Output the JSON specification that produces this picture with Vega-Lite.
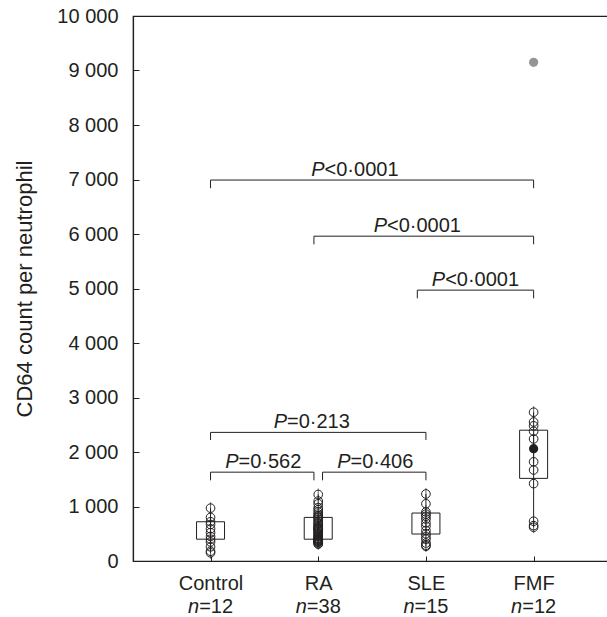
{
  "$schema": "https://vega.github.io/schema/vega-lite/v6.json",
  "width": 476,
  "height": 545,
  "autosize": "none",
  "padding": {"left": 133, "top": 16, "right": 0, "bottom": 56},
  "background": "white",
  "config": {
    "font": "Liberation Sans",
    "view": {"stroke": "#231f20", "strokeWidth": 1.2},
    "scale": {"continuousPadding": 0},
    "axis": {"grid": false, "domainColor": "#231f20", "tickColor": "#231f20", "labelColor": "#231f20", "titleColor": "#231f20", "labelFont": "Liberation Sans", "titleFont": "Liberation Sans", "labelFontSize": 20, "titleFontSize": 22, "titleFontWeight": "normal", "domainWidth": 1.2, "tickWidth": 1}
  },
  "datasets": {
    "points": [
      {"grp": 0, "v": 970, "kind": "open"}, {"grp": 0, "v": 800, "kind": "open"}, {"grp": 0, "v": 720, "kind": "open"}, {"grp": 0, "v": 670, "kind": "open"}, {"grp": 0, "v": 590, "kind": "open"}, {"grp": 0, "v": 520, "kind": "open"}, {"grp": 0, "v": 450, "kind": "open"}, {"grp": 0, "v": 400, "kind": "open"}, {"grp": 0, "v": 350, "kind": "open"}, {"grp": 0, "v": 260, "kind": "open"}, {"grp": 0, "v": 180, "kind": "open"}, {"grp": 0, "v": 150, "kind": "open"},
      {"grp": 1, "v": 1220, "kind": "open"}, {"grp": 1, "v": 1100, "kind": "open"}, {"grp": 1, "v": 1050, "kind": "open"}, {"grp": 1, "v": 980, "kind": "open"}, {"grp": 1, "v": 940, "kind": "open"}, {"grp": 1, "v": 900, "kind": "open"}, {"grp": 1, "v": 860, "kind": "open"}, {"grp": 1, "v": 830, "kind": "open"}, {"grp": 1, "v": 810, "kind": "open"}, {"grp": 1, "v": 790, "kind": "open"},
      {"grp": 1, "v": 760, "kind": "open"}, {"grp": 1, "v": 730, "kind": "open"}, {"grp": 1, "v": 700, "kind": "open"}, {"grp": 1, "v": 680, "kind": "open"}, {"grp": 1, "v": 650, "kind": "open"}, {"grp": 1, "v": 630, "kind": "open"}, {"grp": 1, "v": 610, "kind": "open"}, {"grp": 1, "v": 600, "kind": "open"}, {"grp": 1, "v": 590, "kind": "open"}, {"grp": 1, "v": 580, "kind": "open"},
      {"grp": 1, "v": 560, "kind": "open"}, {"grp": 1, "v": 540, "kind": "open"}, {"grp": 1, "v": 520, "kind": "open"}, {"grp": 1, "v": 500, "kind": "open"}, {"grp": 1, "v": 480, "kind": "open"}, {"grp": 1, "v": 460, "kind": "open"}, {"grp": 1, "v": 440, "kind": "open"}, {"grp": 1, "v": 420, "kind": "open"}, {"grp": 1, "v": 410, "kind": "open"}, {"grp": 1, "v": 400, "kind": "open"},
      {"grp": 1, "v": 390, "kind": "open"}, {"grp": 1, "v": 380, "kind": "open"}, {"grp": 1, "v": 370, "kind": "open"}, {"grp": 1, "v": 360, "kind": "open"}, {"grp": 1, "v": 350, "kind": "open"}, {"grp": 1, "v": 340, "kind": "open"}, {"grp": 1, "v": 320, "kind": "open"}, {"grp": 1, "v": 310, "kind": "open"},
      {"grp": 2, "v": 1230, "kind": "open"}, {"grp": 2, "v": 1050, "kind": "open"}, {"grp": 2, "v": 900, "kind": "open"}, {"grp": 2, "v": 860, "kind": "open"}, {"grp": 2, "v": 820, "kind": "open"}, {"grp": 2, "v": 770, "kind": "open"}, {"grp": 2, "v": 700, "kind": "open"}, {"grp": 2, "v": 640, "kind": "open"}, {"grp": 2, "v": 560, "kind": "open"}, {"grp": 2, "v": 500, "kind": "open"}, {"grp": 2, "v": 450, "kind": "open"}, {"grp": 2, "v": 400, "kind": "open"}, {"grp": 2, "v": 330, "kind": "open"}, {"grp": 2, "v": 290, "kind": "open"}, {"grp": 2, "v": 270, "kind": "open"},
      {"grp": 3, "v": 2730, "kind": "open"}, {"grp": 3, "v": 2550, "kind": "open"}, {"grp": 3, "v": 2480, "kind": "open"}, {"grp": 3, "v": 2380, "kind": "open"}, {"grp": 3, "v": 2240, "kind": "open"}, {"grp": 3, "v": 1820, "kind": "open"}, {"grp": 3, "v": 1670, "kind": "open"}, {"grp": 3, "v": 1420, "kind": "open"}, {"grp": 3, "v": 730, "kind": "open"}, {"grp": 3, "v": 650, "kind": "open"}, {"grp": 3, "v": 620, "kind": "open"},
      {"grp": 3, "v": 2060, "kind": "filled"},
      {"grp": 3, "v": 9150, "kind": "outlier"}
    ],
    "boxes": [
      {"grp": 0, "lo": 150, "q1": 400, "med": 520, "q3": 720, "hi": 970},
      {"grp": 1, "lo": 310, "q1": 400, "med": 590, "q3": 800, "hi": 1220},
      {"grp": 2, "lo": 275, "q1": 495, "med": 770, "q3": 880, "hi": 1230},
      {"grp": 3, "lo": 620, "q1": 1516, "med": 2060, "q3": 2400, "hi": 2730}
    ],
    "brackets": [
      {"a": 0, "b": 3, "y": 6990, "leg": 6840, "tx": 1.34, "kind": "lt", "rest": "<0·0001"},
      {"a": 0.96, "b": 3, "y": 5960, "leg": 5810, "tx": 1.92, "kind": "lt", "rest": "<0·0001"},
      {"a": 1.92, "b": 3, "y": 4970, "leg": 4820, "tx": 2.46, "kind": "lt", "rest": "<0·0001"},
      {"a": 0, "b": 2, "y": 2360, "leg": 2220, "tx": 0.94, "kind": "eq", "rest": "=0·213"},
      {"a": 0, "b": 0.96, "y": 1630, "leg": 1480, "tx": 0.49, "kind": "eq", "rest": "=0·562"},
      {"a": 1.04, "b": 2, "y": 1630, "leg": 1480, "tx": 1.53, "kind": "eq", "rest": "=0·406"}
    ],
    "groups": [
      {"grp": 0, "name": "Control", "n": "=12"},
      {"grp": 1, "name": "RA", "n": "=38"},
      {"grp": 2, "name": "SLE", "n": "=15"},
      {"grp": 3, "name": "FMF", "n": "=12"}
    ]
  },
  "layer": [
    {
      "data": {"name": "boxes"},
      "mark": {"type": "rule", "color": "#231f20", "strokeWidth": 1},
      "encoding": {
        "x": {"field": "grp", "type": "quantitative", "scale": {"domain": [-0.72, 3.7], "nice": false, "zero": false, "padding": 0}, "title": null,
          "axis": {"values": [0, 1, 2, 3], "labelExpr": "['Control','RA','SLE','FMF'][datum.value]", "tickSize": -5, "labelPadding": 17.5, "labelBaseline": "top"}},
        "y": {"field": "lo", "type": "quantitative", "scale": {"domain": [0, 10000], "nice": false, "padding": 0}, "title": "CD64 count per neutrophil",
          "axis": {"values": [0, 500, 1000, 1500, 2000, 2500, 3000, 3500, 4000, 4500, 5000, 5500, 6000, 6500, 7000, 7500, 8000, 8500, 9000, 9500, 10000], "labelExpr": "datum.value % 1000 == 0 ? replace(format(datum.value, ','), ',', ' ') : ''", "tickSize": -6, "labelPadding": 21, "titlePadding": 20}},
        "y2": {"field": "hi"}
      }
    },
    {
      "data": {"name": "boxes"},
      "mark": {"type": "bar", "width": 28, "fillOpacity": 0, "stroke": "#231f20", "strokeWidth": 1},
      "encoding": {
        "x": {"field": "grp", "type": "quantitative", "scale": {"domain": [-0.72, 3.7], "nice": false, "zero": false, "padding": 0}},
        "y": {"field": "q1", "type": "quantitative", "scale": {"domain": [0, 10000], "nice": false, "padding": 0}},
        "y2": {"field": "q3"}
      }
    },
    {
      "data": {"name": "boxes"},
      "mark": {"type": "tick", "orient": "vertical", "size": 28, "thickness": 1, "color": "#231f20"},
      "encoding": {
        "x": {"field": "grp", "type": "quantitative", "scale": {"domain": [-0.72, 3.7], "nice": false, "zero": false, "padding": 0}},
        "y": {"field": "med", "type": "quantitative", "scale": {"domain": [0, 10000], "nice": false, "padding": 0}}
      }
    },
    {
      "data": {"name": "boxes"},
      "mark": {"type": "tick", "orient": "vertical", "size": 12, "thickness": 1, "color": "#231f20"},
      "encoding": {
        "x": {"field": "grp", "type": "quantitative", "scale": {"domain": [-0.72, 3.7], "nice": false, "zero": false, "padding": 0}},
        "y": {"field": "hi", "type": "quantitative", "scale": {"domain": [0, 10000], "nice": false, "padding": 0}}
      }
    },
    {
      "data": {"name": "boxes"},
      "mark": {"type": "tick", "orient": "vertical", "size": 12, "thickness": 1, "color": "#231f20"},
      "encoding": {
        "x": {"field": "grp", "type": "quantitative", "scale": {"domain": [-0.72, 3.7], "nice": false, "zero": false, "padding": 0}},
        "y": {"field": "lo", "type": "quantitative", "scale": {"domain": [0, 10000], "nice": false, "padding": 0}}
      }
    },
    {
      "data": {"name": "points"},
      "transform": [{"filter": "datum.kind == 'open'"}],
      "mark": {"type": "point", "shape": "circle", "filled": false, "size": 75, "stroke": "#231f20", "strokeWidth": 1, "opacity": 1},
      "encoding": {
        "x": {"field": "grp", "type": "quantitative", "scale": {"domain": [-0.72, 3.7], "nice": false, "zero": false, "padding": 0}},
        "y": {"field": "v", "type": "quantitative", "scale": {"domain": [0, 10000], "nice": false, "padding": 0}}
      }
    },
    {
      "data": {"name": "points"},
      "transform": [{"filter": "datum.kind == 'filled'"}],
      "mark": {"type": "point", "shape": "circle", "filled": true, "size": 85, "color": "#231f20", "opacity": 1},
      "encoding": {
        "x": {"field": "grp", "type": "quantitative", "scale": {"domain": [-0.72, 3.7], "nice": false, "zero": false, "padding": 0}},
        "y": {"field": "v", "type": "quantitative", "scale": {"domain": [0, 10000], "nice": false, "padding": 0}}
      }
    },
    {
      "data": {"name": "points"},
      "transform": [{"filter": "datum.kind == 'outlier'"}],
      "mark": {"type": "point", "shape": "circle", "filled": true, "size": 85, "color": "#959595", "opacity": 1},
      "encoding": {
        "x": {"field": "grp", "type": "quantitative", "scale": {"domain": [-0.72, 3.7], "nice": false, "zero": false, "padding": 0}},
        "y": {"field": "v", "type": "quantitative", "scale": {"domain": [0, 10000], "nice": false, "padding": 0}}
      }
    },
    {
      "data": {"name": "brackets"},
      "mark": {"type": "rule", "color": "#231f20", "strokeWidth": 1},
      "encoding": {
        "x": {"field": "a", "type": "quantitative", "scale": {"domain": [-0.72, 3.7], "nice": false, "zero": false, "padding": 0}},
        "x2": {"field": "b"},
        "y": {"field": "y", "type": "quantitative", "scale": {"domain": [0, 10000], "nice": false, "padding": 0}}
      }
    },
    {
      "data": {"name": "brackets"},
      "mark": {"type": "rule", "color": "#231f20", "strokeWidth": 1},
      "encoding": {
        "x": {"field": "a", "type": "quantitative", "scale": {"domain": [-0.72, 3.7], "nice": false, "zero": false, "padding": 0}},
        "y": {"field": "y", "type": "quantitative", "scale": {"domain": [0, 10000], "nice": false, "padding": 0}},
        "y2": {"field": "leg"}
      }
    },
    {
      "data": {"name": "brackets"},
      "mark": {"type": "rule", "color": "#231f20", "strokeWidth": 1},
      "encoding": {
        "x": {"field": "b", "type": "quantitative", "scale": {"domain": [-0.72, 3.7], "nice": false, "zero": false, "padding": 0}},
        "y": {"field": "y", "type": "quantitative", "scale": {"domain": [0, 10000], "nice": false, "padding": 0}},
        "y2": {"field": "leg"}
      }
    },
    {
      "data": {"name": "brackets"},
      "transform": [{"filter": "datum.kind == 'lt'"}],
      "mark": {"type": "text", "text": "P", "fontStyle": "italic", "fontSize": 20, "align": "right", "baseline": "alphabetic", "dx": -30.3, "dy": -4, "color": "#231f20", "font": "Liberation Sans"},
      "encoding": {
        "x": {"field": "tx", "type": "quantitative", "scale": {"domain": [-0.72, 3.7], "nice": false, "zero": false, "padding": 0}},
        "y": {"field": "y", "type": "quantitative", "scale": {"domain": [0, 10000], "nice": false, "padding": 0}}
      }
    },
    {
      "data": {"name": "brackets"},
      "transform": [{"filter": "datum.kind == 'lt'"}],
      "mark": {"type": "text", "fontSize": 20, "align": "left", "baseline": "alphabetic", "dx": -30.3, "dy": -4, "color": "#231f20", "font": "Liberation Sans"},
      "encoding": {
        "x": {"field": "tx", "type": "quantitative", "scale": {"domain": [-0.72, 3.7], "nice": false, "zero": false, "padding": 0}},
        "y": {"field": "y", "type": "quantitative", "scale": {"domain": [0, 10000], "nice": false, "padding": 0}},
        "text": {"field": "rest"}
      }
    },
    {
      "data": {"name": "brackets"},
      "transform": [{"filter": "datum.kind == 'eq'"}],
      "mark": {"type": "text", "text": "P", "fontStyle": "italic", "fontSize": 20, "align": "right", "baseline": "alphabetic", "dx": -24.8, "dy": -4, "color": "#231f20", "font": "Liberation Sans"},
      "encoding": {
        "x": {"field": "tx", "type": "quantitative", "scale": {"domain": [-0.72, 3.7], "nice": false, "zero": false, "padding": 0}},
        "y": {"field": "y", "type": "quantitative", "scale": {"domain": [0, 10000], "nice": false, "padding": 0}}
      }
    },
    {
      "data": {"name": "brackets"},
      "transform": [{"filter": "datum.kind == 'eq'"}],
      "mark": {"type": "text", "fontSize": 20, "align": "left", "baseline": "alphabetic", "dx": -24.8, "dy": -4, "color": "#231f20", "font": "Liberation Sans"},
      "encoding": {
        "x": {"field": "tx", "type": "quantitative", "scale": {"domain": [-0.72, 3.7], "nice": false, "zero": false, "padding": 0}},
        "y": {"field": "y", "type": "quantitative", "scale": {"domain": [0, 10000], "nice": false, "padding": 0}},
        "text": {"field": "rest"}
      }
    },
    {
      "data": {"name": "groups"},
      "mark": {"type": "text", "text": "n", "fontStyle": "italic", "fontSize": 20, "align": "right", "baseline": "alphabetic", "dx": -11.4, "dy": 52, "color": "#231f20", "font": "Liberation Sans"},
      "encoding": {
        "x": {"field": "grp", "type": "quantitative", "scale": {"domain": [-0.72, 3.7], "nice": false, "zero": false, "padding": 0}},
        "y": {"datum": 0, "type": "quantitative", "scale": {"domain": [0, 10000], "nice": false, "padding": 0}}
      }
    },
    {
      "data": {"name": "groups"},
      "mark": {"type": "text", "fontSize": 20, "align": "left", "baseline": "alphabetic", "dx": -11.4, "dy": 52, "color": "#231f20", "font": "Liberation Sans"},
      "encoding": {
        "x": {"field": "grp", "type": "quantitative", "scale": {"domain": [-0.72, 3.7], "nice": false, "zero": false, "padding": 0}},
        "y": {"datum": 0, "type": "quantitative", "scale": {"domain": [0, 10000], "nice": false, "padding": 0}},
        "text": {"field": "n"}
      }
    }
  ]
}
